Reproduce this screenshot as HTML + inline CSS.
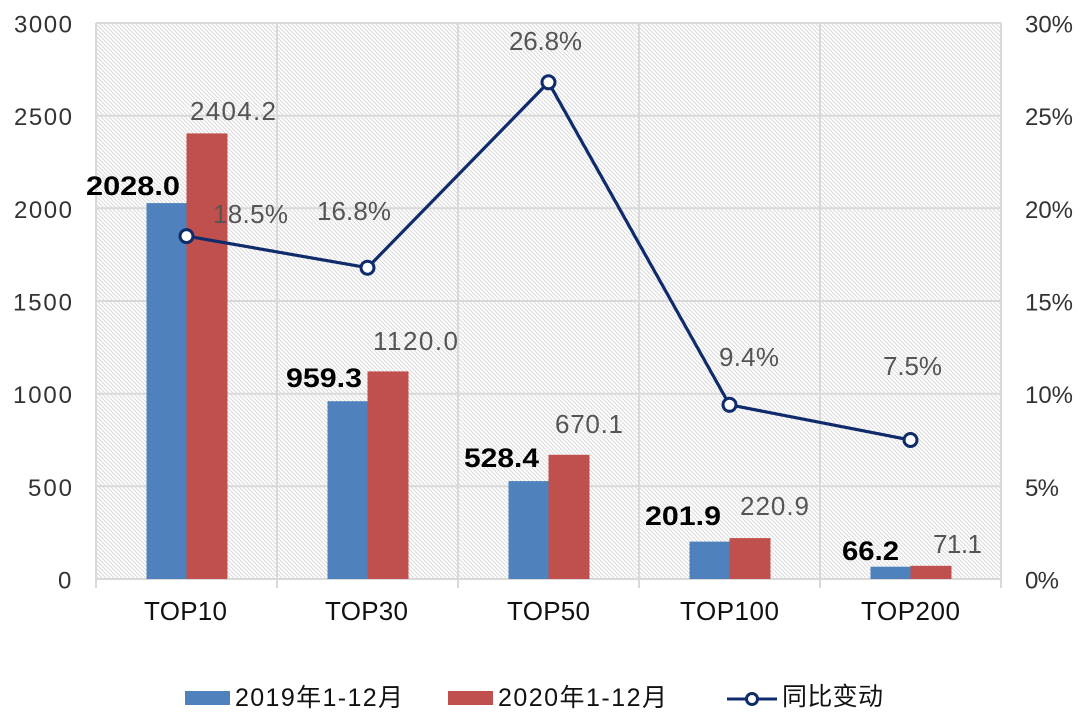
<!DOCTYPE html>
<html><head><meta charset="utf-8"><style>
html,body{margin:0;padding:0;background:#fff;}
svg{display:block;}
text{font-family:"Liberation Sans","Noto Sans CJK SC",sans-serif;}
</style></head><body>
<svg width="1080" height="715" viewBox="0 0 1080 715" xmlns="http://www.w3.org/2000/svg">
<defs>
<pattern id="h" patternUnits="userSpaceOnUse" width="4" height="4">
<path d="M-1,-1 L5,5 M-1,3 L1,5 M3,-1 L5,1" stroke="#dadada" stroke-width="1"/>
</pattern>
</defs>
<rect x="96" y="23" width="905" height="556" fill="url(#h)"/>
<g stroke="#d9d9d9" stroke-width="2" fill="none">
<line x1="96" y1="23" x2="1001" y2="23"/>
<line x1="96" y1="115.7" x2="1001" y2="115.7"/>
<line x1="96" y1="208.3" x2="1001" y2="208.3"/>
<line x1="96" y1="301" x2="1001" y2="301"/>
<line x1="96" y1="393.7" x2="1001" y2="393.7"/>
<line x1="96" y1="486.3" x2="1001" y2="486.3"/>
<line x1="96" y1="579" x2="1001" y2="579"/>
<line x1="96" y1="23" x2="96" y2="588"/>
<line x1="277" y1="23" x2="277" y2="588"/>
<line x1="458" y1="23" x2="458" y2="588"/>
<line x1="639" y1="23" x2="639" y2="588"/>
<line x1="820" y1="23" x2="820" y2="588"/>
<line x1="1001" y1="23" x2="1001" y2="588"/>
</g>
<g fill="#4f81bd">
<rect x="146.5" y="203.1" width="40" height="375.9"/>
<rect x="327.5" y="401.2" width="40" height="177.8"/>
<rect x="508.5" y="481.1" width="40" height="97.9"/>
<rect x="689.5" y="541.6" width="40" height="37.4"/>
<rect x="870.5" y="566.7" width="40" height="12.3"/>
</g>
<g fill="#c0504d">
<rect x="186.5" y="133.4" width="41" height="445.6"/>
<rect x="367.5" y="371.4" width="41" height="207.6"/>
<rect x="548.5" y="454.8" width="41" height="124.2"/>
<rect x="729.5" y="538.1" width="41" height="40.9"/>
<rect x="910.5" y="565.8" width="41" height="13.2"/>
</g>
<polyline points="186.5,236.1 367.5,267.7 548.5,82.3 729.5,404.8 910.5,440" fill="none" stroke="#0f2b6b" stroke-width="3.2" stroke-linejoin="round"/>
<g fill="#fff" stroke="#0f2b6b" stroke-width="3">
<circle cx="186.5" cy="236.1" r="6.5"/>
<circle cx="367.5" cy="267.7" r="6.5"/>
<circle cx="548.5" cy="82.3" r="6.5"/>
<circle cx="729.5" cy="404.8" r="6.5"/>
<circle cx="910.5" cy="440" r="6.5"/>
</g>
<!-- left axis labels -->
<g font-size="24" fill="#333">
<text x="14" y="32.5" textLength="58" lengthAdjust="spacing">3000</text>
<text x="14" y="125.2" textLength="58" lengthAdjust="spacing">2500</text>
<text x="14" y="217.8" textLength="58" lengthAdjust="spacing">2000</text>
<text x="13" y="310.5" textLength="59" lengthAdjust="spacing">1500</text>
<text x="13" y="403.2" textLength="59" lengthAdjust="spacing">1000</text>
<text x="28" y="495.8" textLength="44" lengthAdjust="spacing">500</text>
<text x="58" y="588.5" textLength="14" lengthAdjust="spacing">0</text>
</g>
<!-- right axis labels -->
<g font-size="24" fill="#333">
<text x="1025" y="32.5" textLength="48" lengthAdjust="spacing">30%</text>
<text x="1025" y="125.2" textLength="48" lengthAdjust="spacing">25%</text>
<text x="1025" y="217.8" textLength="48" lengthAdjust="spacing">20%</text>
<text x="1025" y="310.5" textLength="48" lengthAdjust="spacing">15%</text>
<text x="1025" y="403.2" textLength="48" lengthAdjust="spacing">10%</text>
<text x="1025" y="495.8" textLength="34" lengthAdjust="spacing">5%</text>
<text x="1025" y="588.5" textLength="34" lengthAdjust="spacing">0%</text>
</g>
<!-- x labels -->
<g font-size="26" fill="#111">
<text x="144" y="620" textLength="83" lengthAdjust="spacing">TOP10</text>
<text x="325" y="620" textLength="83" lengthAdjust="spacing">TOP30</text>
<text x="507" y="620" textLength="83" lengthAdjust="spacing">TOP50</text>
<text x="680" y="620" textLength="99" lengthAdjust="spacing">TOP100</text>
<text x="861" y="620" textLength="99" lengthAdjust="spacing">TOP200</text>
</g>
<!-- value labels -->
<g font-size="27" fill="#000" font-weight="bold">
<text x="86" y="195" textLength="94" lengthAdjust="spacingAndGlyphs">2028.0</text>
<text x="286" y="387" textLength="76" lengthAdjust="spacingAndGlyphs">959.3</text>
<text x="464" y="467" textLength="75" lengthAdjust="spacingAndGlyphs">528.4</text>
<text x="645" y="525" textLength="76" lengthAdjust="spacingAndGlyphs">201.9</text>
<text x="842" y="560" textLength="57" lengthAdjust="spacingAndGlyphs">66.2</text>
</g>
<g font-size="26" fill="#555">
<text x="190" y="120" textLength="86" lengthAdjust="spacing">2404.2</text>
<text x="373" y="350" textLength="85" lengthAdjust="spacing">1120.0</text>
<text x="555" y="433" textLength="68" lengthAdjust="spacing">670.1</text>
<text x="740" y="515" textLength="69" lengthAdjust="spacing">220.9</text>
<text x="933" y="553" textLength="49" lengthAdjust="spacing">71.1</text>
<text x="213" y="223" textLength="75" lengthAdjust="spacing">18.5%</text>
<text x="317" y="220" textLength="74" lengthAdjust="spacing">16.8%</text>
<text x="509" y="50" textLength="73" lengthAdjust="spacing">26.8%</text>
<text x="719" y="366" textLength="60" lengthAdjust="spacing">9.4%</text>
<text x="883" y="375" textLength="59" lengthAdjust="spacing">7.5%</text>
</g>
<!-- legend -->
<rect x="185" y="691" width="45" height="14" fill="#4f81bd"/>
<rect x="448" y="691" width="45" height="14" fill="#c0504d"/>
<line x1="727" y1="699" x2="777" y2="699" stroke="#0f2b6b" stroke-width="3"/>
<circle cx="752" cy="699" r="5.5" fill="#fff" stroke="#0f2b6b" stroke-width="3"/>
<g font-size="25" fill="#111">
<text x="235" y="706" textLength="168" lengthAdjust="spacing">2019年1-12月</text>
<text x="498" y="706" textLength="169" lengthAdjust="spacing">2020年1-12月</text>
<text x="782" y="705" textLength="101" lengthAdjust="spacing">同比变动</text>
</g>
</svg>
</body></html>
